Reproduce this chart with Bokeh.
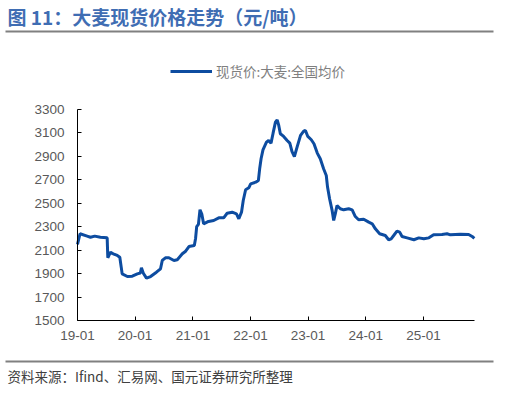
from bokeh.plotting import figure
from bokeh.models import (ColumnDataSource, FixedTicker, DatetimeTickFormatter,
                          Label, BoxAnnotation, Legend, LegendItem, Range1d)
from bokeh.embed import file_html
from bokeh.resources import INLINE
import pandas as pd

dates = [
    "2019-01-01", "2019-01-17", "2019-03-03", "2019-03-24", "2019-04-20", "2019-05-26",
    "2019-07-08", "2019-07-12", "2019-07-29", "2019-08-15", "2019-09-10", "2019-09-26",
    "2019-10-05", "2019-10-11", "2019-11-13", "2019-12-14", "2020-01-15", "2020-02-03",
    "2020-02-10", "2020-02-22", "2020-03-13", "2020-04-08", "2020-05-15", "2020-06-10",
    "2020-06-21", "2020-07-11", "2020-08-02", "2020-09-03", "2020-09-24", "2020-10-26",
    "2020-11-16", "2020-12-07", "2021-01-10", "2021-01-18", "2021-01-25", "2021-02-05",
    "2021-02-15", "2021-02-27", "2021-03-10", "2021-04-10", "2021-05-13", "2021-06-14",
    "2021-07-15", "2021-08-06", "2021-09-07", "2021-10-04", "2021-10-19", "2021-11-05",
    "2021-11-16", "2021-12-01", "2021-12-21", "2022-01-02", "2022-02-03", "2022-02-20",
    "2022-02-28", "2022-03-09", "2022-03-21", "2022-04-12", "2022-04-26", "2022-05-11",
    "2022-05-24", "2022-06-08", "2022-06-19", "2022-06-29", "2022-07-09", "2022-07-30",
    "2022-08-21", "2022-09-07", "2022-09-21", "2022-10-06", "2022-10-23", "2022-11-14",
    "2022-12-04", "2022-12-15", "2022-12-30", "2023-01-21", "2023-02-07", "2023-02-28",
    "2023-03-19", "2023-04-09", "2023-04-26", "2023-05-04", "2023-05-17", "2023-06-02",
    "2023-06-12", "2023-06-22", "2023-07-03", "2023-07-24", "2023-08-14", "2023-09-15",
    "2023-10-07", "2023-10-27", "2023-11-17", "2023-12-19", "2024-01-20", "2024-02-11",
    "2024-03-02", "2024-03-29", "2024-05-04", "2024-05-25", "2024-06-10", "2024-06-26",
    "2024-07-17", "2024-08-03", "2024-08-18", "2024-09-19", "2024-11-01", "2024-12-02",
    "2025-01-03", "2025-02-04", "2025-03-06", "2025-04-28", "2025-05-30", "2025-06-20",
    "2025-08-22", "2025-10-14", "2025-11-05", "2025-11-19",
]
prices = [
    2150, 2240, 2220, 2210, 2220, 2210,
    2205, 2035, 2083, 2069, 2055, 2040,
    1955, 1898, 1875, 1878, 1898, 1905,
    1950, 1903, 1861, 1875, 1912, 1941,
    2012, 2035, 2035, 2012, 2018, 2069,
    2091, 2131, 2140, 2200, 2300, 2320,
    2445, 2405, 2325, 2345, 2353, 2376,
    2376, 2415, 2424, 2410, 2368, 2424,
    2524, 2615, 2632, 2665, 2680, 2695,
    2794, 2880, 2956, 3021, 3036, 3013,
    3098, 3192, 3212, 3164, 3093, 3070,
    3036, 3013, 2940, 2899, 2979, 3079,
    3115, 3121, 3070, 3042, 3008, 2928,
    2880, 2794, 2737, 2638, 2539, 2439,
    2353, 2410, 2481, 2453, 2444, 2453,
    2444, 2387, 2359, 2364, 2339, 2325,
    2282, 2240, 2225, 2189, 2197, 2225,
    2262, 2254, 2217, 2205, 2189, 2205,
    2197, 2205, 2231, 2234, 2240, 2231,
    2236, 2234, 2217, 2200,
]
tick_years = ["2019-01-01", "2020-01-01", "2021-01-01", "2022-01-01",
              "2023-01-01", "2024-01-01", "2025-01-01"]
y_ticks = [1500, 1700, 1900, 2100, 2300, 2500, 2700, 2900, 3100, 3300]

title_text = "图 11：大麦现货价格走势（元/吨）"
series_name = "现货价:大麦:全国均价"
source_text = "资料来源：Ifind、汇易网、国元证券研究所整理"

LINE_COLOR = "#0D4CA0"
RULE_COLOR = "#808080"
W, H = 497, 387

# where the axes sit on the canvas (px from top-left)
AX_LEFT, AX_RIGHT, AX_TOP, AX_BOTTOM = 77, 474, 109, 320
t0, t1 = pd.Timestamp("2019-01-01"), pd.Timestamp("2025-11-20")
v0, v1 = 1500, 3300

# frame covers the whole canvas; pad ranges so the axes land at the spots above
per_px = (t1 - t0) / (AX_RIGHT - AX_LEFT)
x_range = Range1d(t0 - per_px * AX_LEFT, t0 + per_px * (W - AX_LEFT))
vpp = (v1 - v0) / (AX_BOTTOM - AX_TOP)
y_range = Range1d(v0 - vpp * (H - AX_BOTTOM), v0 - vpp * (H - AX_BOTTOM) + vpp * H)

p = figure(width=W, height=H, x_axis_type="datetime",
           output_backend="svg", toolbar_location=None,
           x_range=x_range, y_range=y_range, min_border=0)
p.outline_line_color = None
p.grid.visible = False

src = ColumnDataSource(dict(date=pd.to_datetime(dates), price=prices))
r = p.line("date", "price", source=src, line_color=LINE_COLOR, line_width=3)

tick_ms = [pd.Timestamp(t).value // 10**6 for t in tick_years]
p.xaxis.ticker = FixedTicker(ticks=tick_ms)
p.xaxis.formatter = DatetimeTickFormatter(years="%y-%m", months="%y-%m", days="%y-%m")
p.xaxis.fixed_location = v0
p.xaxis.bounds = (t0.to_pydatetime(), t1.to_pydatetime())
p.yaxis.ticker = FixedTicker(ticks=y_ticks)
p.yaxis.fixed_location = t0.value / 10**6
p.yaxis.bounds = (v0, v1)

for ax in (p.xaxis, p.yaxis):
    ax.axis_line_color = "black"
    ax.axis_line_width = 1
    ax.major_tick_line_color = "black"
    ax.major_tick_in = 4
    ax.major_tick_out = 0
    ax.minor_tick_line_color = None
    ax.major_label_text_color = "#595959"
    ax.major_label_text_font = "Liberation Sans"
    ax.major_label_text_font_size = "13.5px"
p.yaxis.major_label_standoff = 13
p.xaxis.major_label_standoff = 10

legend = Legend(items=[LegendItem(label=series_name, renderers=[r])],
                location=(170, H - 81), orientation="horizontal",
                glyph_width=42, glyph_height=14, label_height=14,
                label_standoff=4, padding=0, margin=0, spacing=0,
                border_line_color=None, background_fill_alpha=0,
                label_text_font="Noto Sans CJK SC", label_text_font_size="13.5px",
                label_text_color="#7f7f7f")
p.add_layout(legend)

# header: title and rule
p.add_layout(Label(x=7, y=H - 16, x_units="screen", y_units="screen",
                   text=title_text, text_baseline="middle",
                   text_font="Noto Sans CJK SC", text_font_style="bold",
                   text_font_size="19px", text_color="#3F6DB3"))
p.add_layout(BoxAnnotation(left=5, right=493, bottom=H - 32, top=H - 30,
                           left_units="screen", right_units="screen",
                           bottom_units="screen", top_units="screen",
                           fill_color=RULE_COLOR, fill_alpha=1, line_color=None))

# footer: rule and source
p.add_layout(BoxAnnotation(left=5, right=493, bottom=25, top=27,
                           left_units="screen", right_units="screen",
                           bottom_units="screen", top_units="screen",
                           fill_color=RULE_COLOR, fill_alpha=1, line_color=None))
p.add_layout(Label(x=7, y=12, x_units="screen", y_units="screen",
                   text=source_text, text_baseline="middle",
                   text_font="Noto Sans CJK SC", text_font_size="13.5px",
                   text_color="#404040"))

open("out.html", "w").write(file_html(p, INLINE))
